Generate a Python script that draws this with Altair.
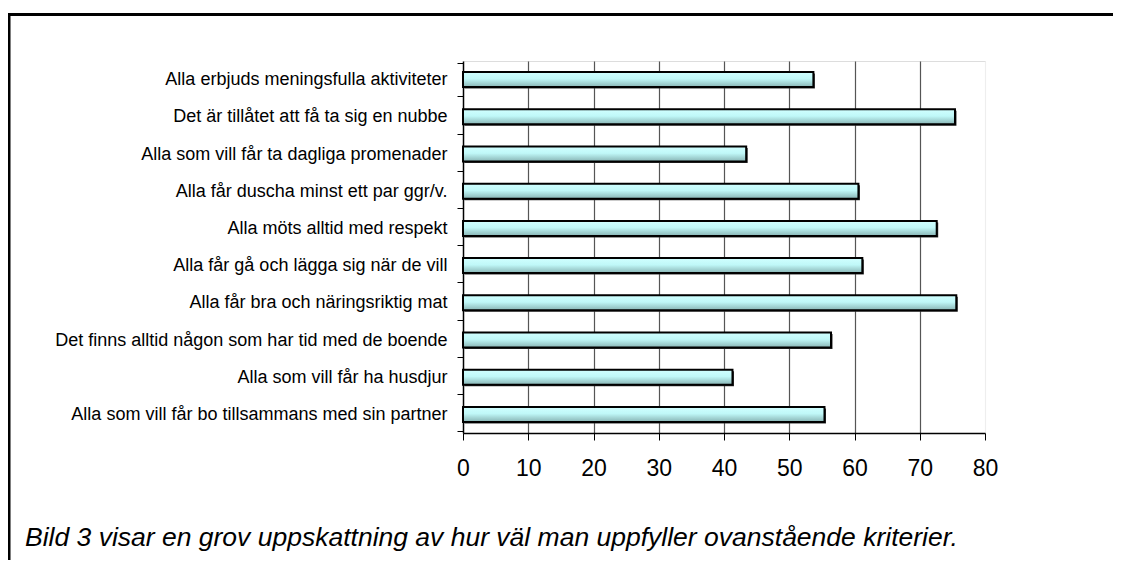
import altair as alt
import pandas as pd

categories = [
    "Alla erbjuds meningsfulla aktiviteter",
    "Det är tillåtet att få ta sig en nubbe",
    "Alla som vill får ta dagliga promenader",
    "Alla får duscha minst ett par ggr/v.",
    "Alla möts alltid med respekt",
    "Alla får gå och lägga sig när de vill",
    "Alla får bra och näringsriktig mat",
    "Det finns alltid någon som har tid med de boende",
    "Alla som vill får ha husdjur",
    "Alla som vill får bo tillsammans med sin partner",
]
values = [53.7, 75.4, 43.4, 60.6, 72.6, 61.2, 75.6, 56.4, 41.3, 55.4]
x_ticks = [0, 10, 20, 30, 40, 50, 60, 70, 80]
caption = "Bild 3 visar en grov uppskattning av hur väl man uppfyller ovanstående kriterier."

df = pd.DataFrame({"cat": categories, "val": values})

W, H = 522, 372
PL, PT = 455, 53
SVG_W, SVG_H = 1105, 552

xscale = alt.Scale(domain=[0, 80], nice=False, zero=True)
yenc = alt.Y("cat:N", sort=categories, title=None,
             axis=alt.Axis(labelFont="Liberation Sans", labelFontSize=18,
                           labelColor="black", labelPadding=10, labelLimit=450,
                           tickBand="extent", tickSize=6, tickColor="black",
                           domainColor="black", domainWidth=1.5, grid=False))
xenc = alt.X("val:Q", scale=xscale, title=None,
             axis=alt.Axis(values=x_ticks, labelFont="Liberation Sans",
                           labelFontSize=23, labelColor="black", labelPadding=17,
                           labelFlush=False,
                           tickSize=7, tickColor="black", domainColor="black",
                           domainWidth=1.5, grid=True,
                           gridColor={"expr": "datum.value == 80 ? '#eeeeee' : (datum.value == 0 ? 'transparent' : '#555555')"},
                           gridWidth=1.2))

base = alt.Chart(df)

shadow = base.mark_bar(color="#333333", xOffset=1.5, yOffset=1.5, size=15).encode(
    x=alt.X("val:Q", scale=xscale), y=alt.Y("cat:N", sort=categories)
)

bars = base.mark_bar(
    size=15,
    stroke="black",
    strokeWidth=2,
    color=alt.Gradient(
        gradient="linear", x1=0, y1=0, x2=0, y2=1,
        stops=[
            alt.GradientStop(color="#d0ffff", offset=0),
            alt.GradientStop(color="#c0f8f8", offset=0.45),
            alt.GradientStop(color="#88b4b4", offset=1),
        ],
    ),
).encode(x=xenc, y=yenc)

frame_top = alt.Chart(pd.DataFrame({"k": [0]})).mark_rule(color="black", strokeWidth=3).encode(
    x=alt.value(-PL + 1), x2=alt.value(SVG_W - PL), y=alt.value(-46.5)
)
frame_left = alt.Chart(pd.DataFrame({"k": [0]})).mark_rule(color="black", strokeWidth=3).encode(
    x=alt.value(-PL + 1), y=alt.value(-48), y2=alt.value(SVG_H - PT)
)

cap = alt.Chart(pd.DataFrame({"t": [caption]})).mark_text(
    font="Liberation Sans", fontSize=26.5, fontStyle="italic", align="left",
    baseline="alphabetic", color="black"
).encode(text="t:N", x=alt.value(-438), y=alt.value(485))

chart = alt.layer(shadow, bars, frame_top, frame_left, cap).properties(
    width=W, height=H,
    autosize=alt.AutoSizeParams(type="none"),
    padding={"left": PL, "top": PT, "right": SVG_W - PL - W, "bottom": SVG_H - PT - H},
).configure_view(strokeWidth=0).configure(background="white")

chart.save("out.html", embed_options={"renderer": "svg", "actions": False})
